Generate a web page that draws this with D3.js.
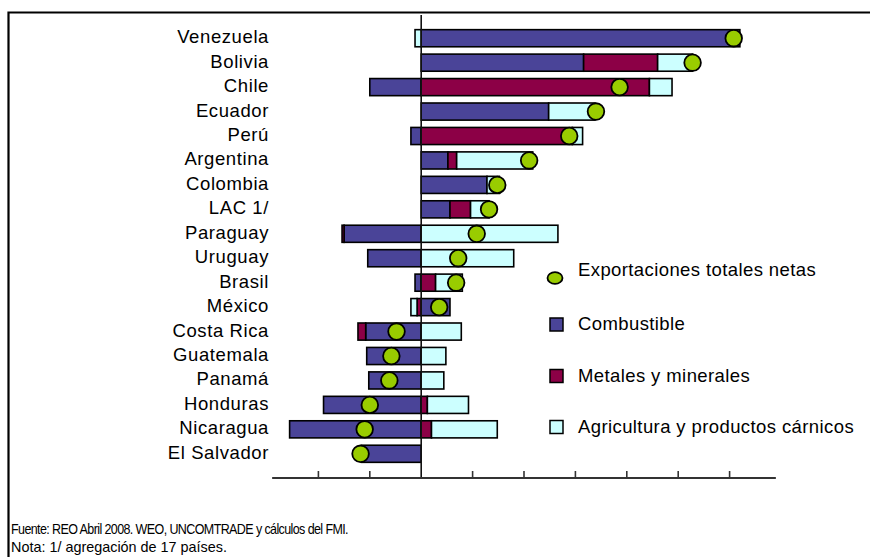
<!DOCTYPE html>
<html>
<head>
<meta charset="utf-8">
<script src="https://cdn.jsdelivr.net/npm/d3@7"></script>
<style>
  html, body { margin: 0; padding: 0; background: #fff; }
  svg { display: block; }
  text { font-family: "Liberation Sans", Arial, Arimo, sans-serif; fill: #000; }
</style>
</head>
<body>
<svg id="chart" width="870" height="557"></svg>
<script>
const categories = ["Venezuela","Bolivia","Chile","Ecuador","Perú","Argentina","Colombia","LAC 1/","Paraguay","Uruguay","Brasil","México","Costa Rica","Guatemala","Panamá","Honduras","Nicaragua","El Salvador"];
const combustible = [31.0, 15.8, -5.0, 12.4, -1.0, 2.6, 6.4, 2.8, -7.5, -5.2, -0.6, 2.8, -5.4, -5.3, -5.1, -9.5, -12.8, -5.8];
const metales     = [0, 7.2, 22.2, 0, 14.7, 0.85, 0, 2.0, -0.2, 0, 1.4, -0.4, -0.75, 0, 0, 0.6, 1.0, 0];
const agricultura = [-0.6, 3.4, 2.2, 4.5, 1.0, 7.4, 1.2, 1.8, 13.3, 9.0, 2.6, -0.6, 3.9, 2.4, 2.2, 4.0, 6.4, 0];
const exportaciones = [30.4, 26.4, 19.3, 17.0, 14.4, 10.5, 7.4, 6.6, 5.4, 3.6, 3.4, 1.75, -2.4, -2.9, -3.1, -5.0, -5.5, -5.9];
const tickValues = [-10, -5, 5, 10, 15, 20, 25, 30];
const seriesNames = ["Combustible", "Metales y minerales", "Agricultura y productos cárnicos"];
const totalName = "Exportaciones totales netas";
const footnotes = ["Fuente: REO Abril 2008. WEO, UNCOMTRADE y cálculos del FMI.", "Nota: 1/ agregación de 17 países."];

const colors = ["#4A4498", "#8C0046", "#CCFFFF"];
const markerColor = "#99CC00";

const svg = d3.select("#chart");

// frame
svg.append("path").attr("d", "M8.5,557 V12.5 H870").attr("fill", "none").attr("stroke", "#000").attr("stroke-width", 2.2);

const x = d3.scaleLinear().domain([-15, 35]).range([267, 781]);
const y = d3.scaleBand().domain(categories).range([26, 466]).paddingInner(0.3).paddingOuter(0.15);
const axisY = 478;

const rows = categories.map((c, i) => ({cat: c, s0: combustible[i], s1: metales[i], s2: agricultura[i]}));
const stack = d3.stack().keys(["s0", "s1", "s2"]).order(d3.stackOrderNone).offset(d3.stackOffsetDiverging);
const stacked = stack(rows);

// bars
stacked.forEach((layer, k) => {
  svg.append("g").selectAll("rect")
    .data(layer.filter(d => d[1] !== d[0]))
    .join("rect")
    .attr("x", d => x(Math.min(d[0], d[1])))
    .attr("width", d => Math.abs(x(d[1]) - x(d[0])))
    .attr("y", d => y(d.data.cat))
    .attr("height", y.bandwidth())
    .attr("fill", colors[k])
    .attr("stroke", "#000")
    .attr("stroke-width", 1.6);
});

// zero line
svg.append("line").attr("x1", x(0)).attr("x2", x(0)).attr("y1", 15).attr("y2", axisY)
  .attr("stroke", "#111").attr("stroke-width", 1.6);

// value axis
svg.append("line").attr("x1", x(-14.5)).attr("x2", x(34.5)).attr("y1", axisY).attr("y2", axisY)
  .attr("stroke", "#333").attr("stroke-width", 2);
svg.append("g").selectAll("line").data(tickValues).join("line")
  .attr("x1", d => x(d)).attr("x2", d => x(d)).attr("y1", axisY - 7).attr("y2", axisY)
  .attr("stroke", "#333").attr("stroke-width", 1.6);

// markers
svg.append("g").selectAll("circle").data(exportaciones).join("circle")
  .attr("cx", d => x(d))
  .attr("cy", (d, i) => y(categories[i]) + y.bandwidth() / 2)
  .attr("r", 8.3)
  .attr("fill", markerColor).attr("stroke", "#000").attr("stroke-width", 1.8);

// category labels
svg.append("g").selectAll("text").data(categories).join("text")
  .attr("x", 269)
  .attr("y", d => y(d) + y.bandwidth() / 2 + 5)
  .attr("text-anchor", "end")
  .attr("font-size", 18.5)
  .attr("letter-spacing", 0.6)
  .text(d => d);

// legend
const lg = svg.append("g");
lg.append("ellipse").attr("cx", 555).attr("cy", 278).attr("rx", 7.5).attr("ry", 5.8)
  .attr("fill", markerColor).attr("stroke", "#000").attr("stroke-width", 1.8);
lg.append("text").attr("x", 578).attr("y", 276).attr("font-size", 18.5).attr("letter-spacing", 0.4).text(totalName);
const legY = [324.5, 376, 427];
seriesNames.forEach((n, i) => {
  lg.append("rect").attr("x", 550).attr("y", legY[i] - 6.5).attr("width", 13).attr("height", 13)
    .attr("fill", colors[i]).attr("stroke", "#000").attr("stroke-width", 1.5);
  lg.append("text").attr("x", 578).attr("y", legY[i] + 5.5).attr("font-size", 18.5).attr("letter-spacing", 0.4).text(n);
});

// footnotes
svg.append("g").selectAll("text").data(footnotes).join("text")
  .attr("x", 11)
  .attr("y", (d, i) => 534 + i * 17.5)
  .attr("font-size", 14.5)
  .attr("letter-spacing", (d, i) => i === 0 ? -0.7 : 0)
  .attr("textLength", (d, i) => [337, 216][i])
  .attr("lengthAdjust", "spacingAndGlyphs")
  .text(d => d);
</script>
</body>
</html>
